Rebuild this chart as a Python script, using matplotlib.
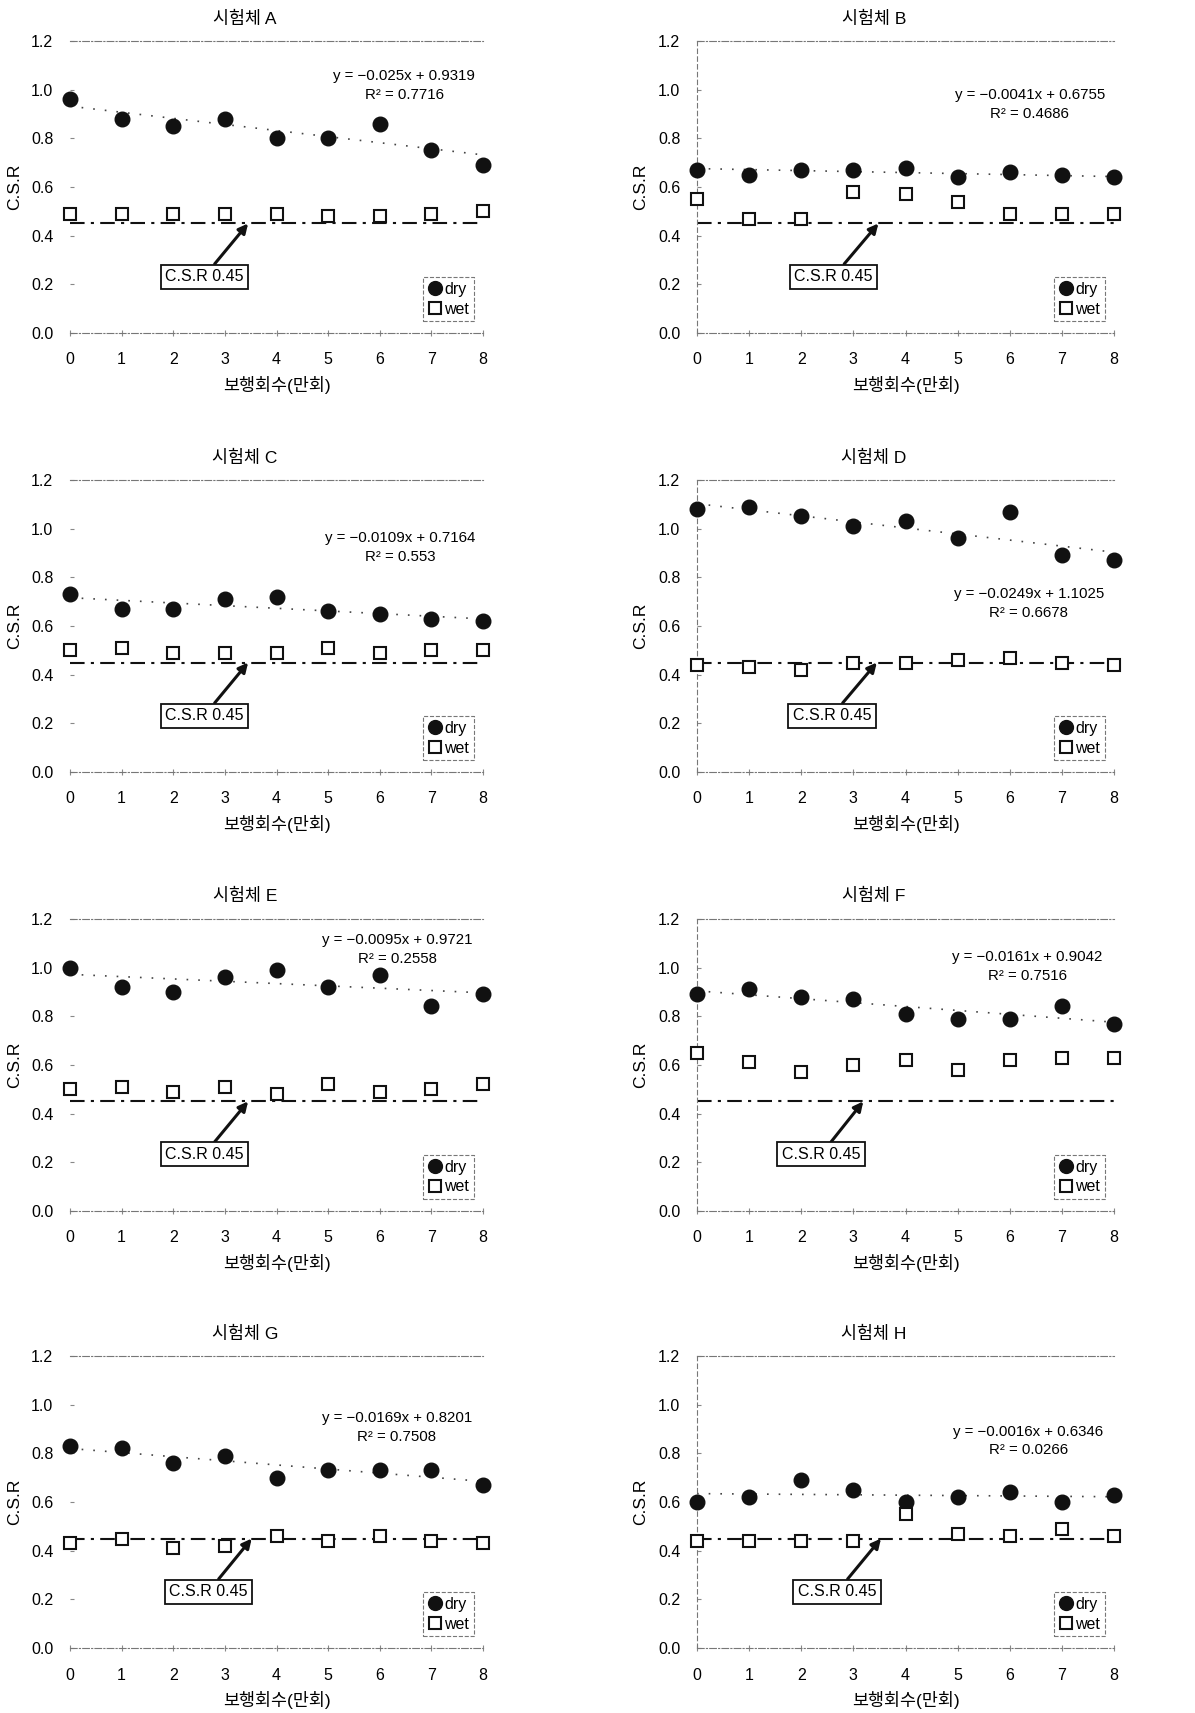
import numpy as np
import matplotlib
matplotlib.use('Agg')
import matplotlib.pyplot as plt

plt.rcParams['font.family'] = ['Liberation Sans', 'Noto Sans CJK KR']

# walking cycles (x 10,000)
cycles = [0, 1, 2, 3, 4, 5, 6, 7, 8]
specimens = ['A', 'B', 'C', 'D', 'E', 'F', 'G', 'H']

# C.S.R measured dry / wet for each specimen
dry_a = [0.96, 0.88, 0.85, 0.88, 0.80, 0.80, 0.86, 0.75, 0.69]
wet_a = [0.49, 0.49, 0.49, 0.49, 0.49, 0.48, 0.48, 0.49, 0.50]
dry_b = [0.67, 0.65, 0.67, 0.67, 0.68, 0.64, 0.66, 0.65, 0.64]
wet_b = [0.55, 0.47, 0.47, 0.58, 0.57, 0.54, 0.49, 0.49, 0.49]
dry_c = [0.73, 0.67, 0.67, 0.71, 0.72, 0.66, 0.65, 0.63, 0.62]
wet_c = [0.50, 0.51, 0.49, 0.49, 0.49, 0.51, 0.49, 0.50, 0.50]
dry_d = [1.08, 1.09, 1.05, 1.01, 1.03, 0.96, 1.07, 0.89, 0.87]
wet_d = [0.44, 0.43, 0.42, 0.45, 0.45, 0.46, 0.47, 0.45, 0.44]
dry_e = [1.00, 0.92, 0.90, 0.96, 0.99, 0.92, 0.97, 0.84, 0.89]
wet_e = [0.50, 0.51, 0.49, 0.51, 0.48, 0.52, 0.49, 0.50, 0.52]
dry_f = [0.89, 0.91, 0.88, 0.87, 0.81, 0.79, 0.79, 0.84, 0.77]
wet_f = [0.65, 0.61, 0.57, 0.60, 0.62, 0.58, 0.62, 0.63, 0.63]
dry_g = [0.83, 0.82, 0.76, 0.79, 0.70, 0.73, 0.73, 0.73, 0.67]
wet_g = [0.43, 0.45, 0.41, 0.42, 0.46, 0.44, 0.46, 0.44, 0.43]
dry_h = [0.60, 0.62, 0.69, 0.65, 0.60, 0.62, 0.64, 0.60, 0.63]
wet_h = [0.44, 0.44, 0.44, 0.44, 0.55, 0.47, 0.46, 0.49, 0.46]

dry_all = [dry_a, dry_b, dry_c, dry_d, dry_e, dry_f, dry_g, dry_h]
wet_all = [wet_a, wet_b, wet_c, wet_d, wet_e, wet_f, wet_g, wet_h]

# linear trend of the dry series
slopes = [-0.025, -0.0041, -0.0109, -0.0249, -0.0095, -0.0161, -0.0169, -0.0016]
intercepts = [0.9319, 0.6755, 0.7164, 1.1025, 0.9721, 0.9042, 0.8201, 0.6346]
r_squared = ['0.7716', '0.4686', '0.553', '0.6678', '0.2558', '0.7516', '0.7508', '0.0266']

csr_limit = 0.45
y_ticks = [0.0, 0.2, 0.4, 0.6, 0.8, 1.0, 1.2]

# layout: axes rectangles, equation and callout placement
col_left = [70 / 1195, 697 / 1195]
col_width = [413 / 1195, 417 / 1195]
row_bottom = [0.8056, 0.5493, 0.2931, 0.0379]
row_height = 0.1705
eq_pos = [(0.809, 0.848), (0.798, 0.781), (0.799, 0.769), (0.796, 0.577),
          (0.793, 0.895), (0.792, 0.837), (0.791, 0.756), (0.794, 0.709)]
box_x = [2.60, 2.62, 2.60, 2.59, 2.60, 2.38, 2.68, 2.69]
tip_x = [3.45, 3.48, 3.45, 3.45, 3.45, 3.19, 3.52, 3.53]
box_y = 0.232

fig = plt.figure(figsize=(11.95, 17.13), dpi=100)

for i, name in enumerate(specimens):
    row, col = divmod(i, 2)
    ax = fig.add_axes([col_left[col], row_bottom[row], col_width[col], row_height])
    ax.set_xlim(cycles[0], cycles[-1])
    ax.set_ylim(0, 1.2)

    # trend line of dry results
    xs = np.linspace(cycles[0], cycles[-1], 50)
    ax.plot(xs, slopes[i] * xs + intercepts[i], color='#444444',
            linestyle=(0, (1, 6)), lw=1.2, zorder=2)

    # C.S.R 0.45 threshold
    ax.plot([cycles[0], cycles[-1]], [csr_limit, csr_limit], color='#111111',
            linestyle=(0, (7, 3, 1.5, 3)), lw=1.5, zorder=2)

    ax.plot(cycles, dry_all[i], 'o', color='#111111', ms=10.5, label='dry',
            clip_on=False, zorder=4)
    ax.plot(cycles, wet_all[i], 's', mfc='white', mec='#111111', mew=1.5,
            ms=8.5, label='wet', clip_on=False, zorder=4)

    ax.annotate('C.S.R 0.45', xy=(tip_x[i], csr_limit), xytext=(box_x[i], box_y),
                ha='center', va='center', fontsize=11.5,
                bbox=dict(boxstyle='square,pad=0.28', fc='white', ec='#111111', lw=1.3),
                arrowprops=dict(arrowstyle='-|>', color='#111111', lw=2.2,
                                mutation_scale=14, shrinkA=0, shrinkB=0),
                zorder=5)

    eq = f"y = \u2212{abs(slopes[i])}x + {intercepts[i]}\nR\u00b2 = {r_squared[i]}"
    ax.text(eq_pos[i][0], eq_pos[i][1], eq, transform=ax.transAxes, ha='center',
            va='center', fontsize=10.8, linespacing=1.45)

    leg = ax.legend(loc='lower right', bbox_to_anchor=(0.978, 0.04), fontsize=11.5,
                    handlelength=0.9, handletextpad=0.15, borderpad=0.3,
                    labelspacing=0.3, fancybox=False, borderaxespad=0,
                    markerscale=0.95)
    frame = leg.get_frame()
    frame.set_linestyle('--')
    frame.set_edgecolor('#555555')
    frame.set_linewidth(0.8)

    # faint broken frame
    for side in ['top', 'bottom']:
        ax.spines[side].set_linestyle((0, (6, 2, 1, 2)))
        ax.spines[side].set_color('#777777')
        ax.spines[side].set_linewidth(0.8)
    ax.spines['right'].set_visible(False)
    if col == 1:
        ax.spines['left'].set_linestyle((0, (4, 3)))
        ax.spines['left'].set_color('#777777')
        ax.spines['left'].set_linewidth(0.8)
    else:
        ax.spines['left'].set_visible(False)

    ax.set_xticks(cycles)
    ax.set_yticks(y_ticks)
    ax.set_yticklabels([f"{v:.1f}" for v in y_ticks])
    ax.tick_params(axis='y', direction='in', length=3, width=0.8, color='#888888',
                   pad=12, labelsize=11.5)
    ax.tick_params(axis='x', direction='inout', length=4, width=0.8, color='#888888',
                   pad=12, labelsize=11.5)

    ax.text(0.424, 1.077, f"시험체 {name}", transform=ax.transAxes, ha='center',
            va='center', fontsize=12.5)
    ax.text(0.5, -0.178, "보행회수(만회)", transform=ax.transAxes, ha='center',
            va='center', fontsize=12.5)
    ax.text(-0.134, 0.5, "C.S.R", transform=ax.transAxes, ha='center', va='center',
            rotation=90, fontsize=12.5)

fig.savefig('out.png', dpi=100, facecolor='white')
